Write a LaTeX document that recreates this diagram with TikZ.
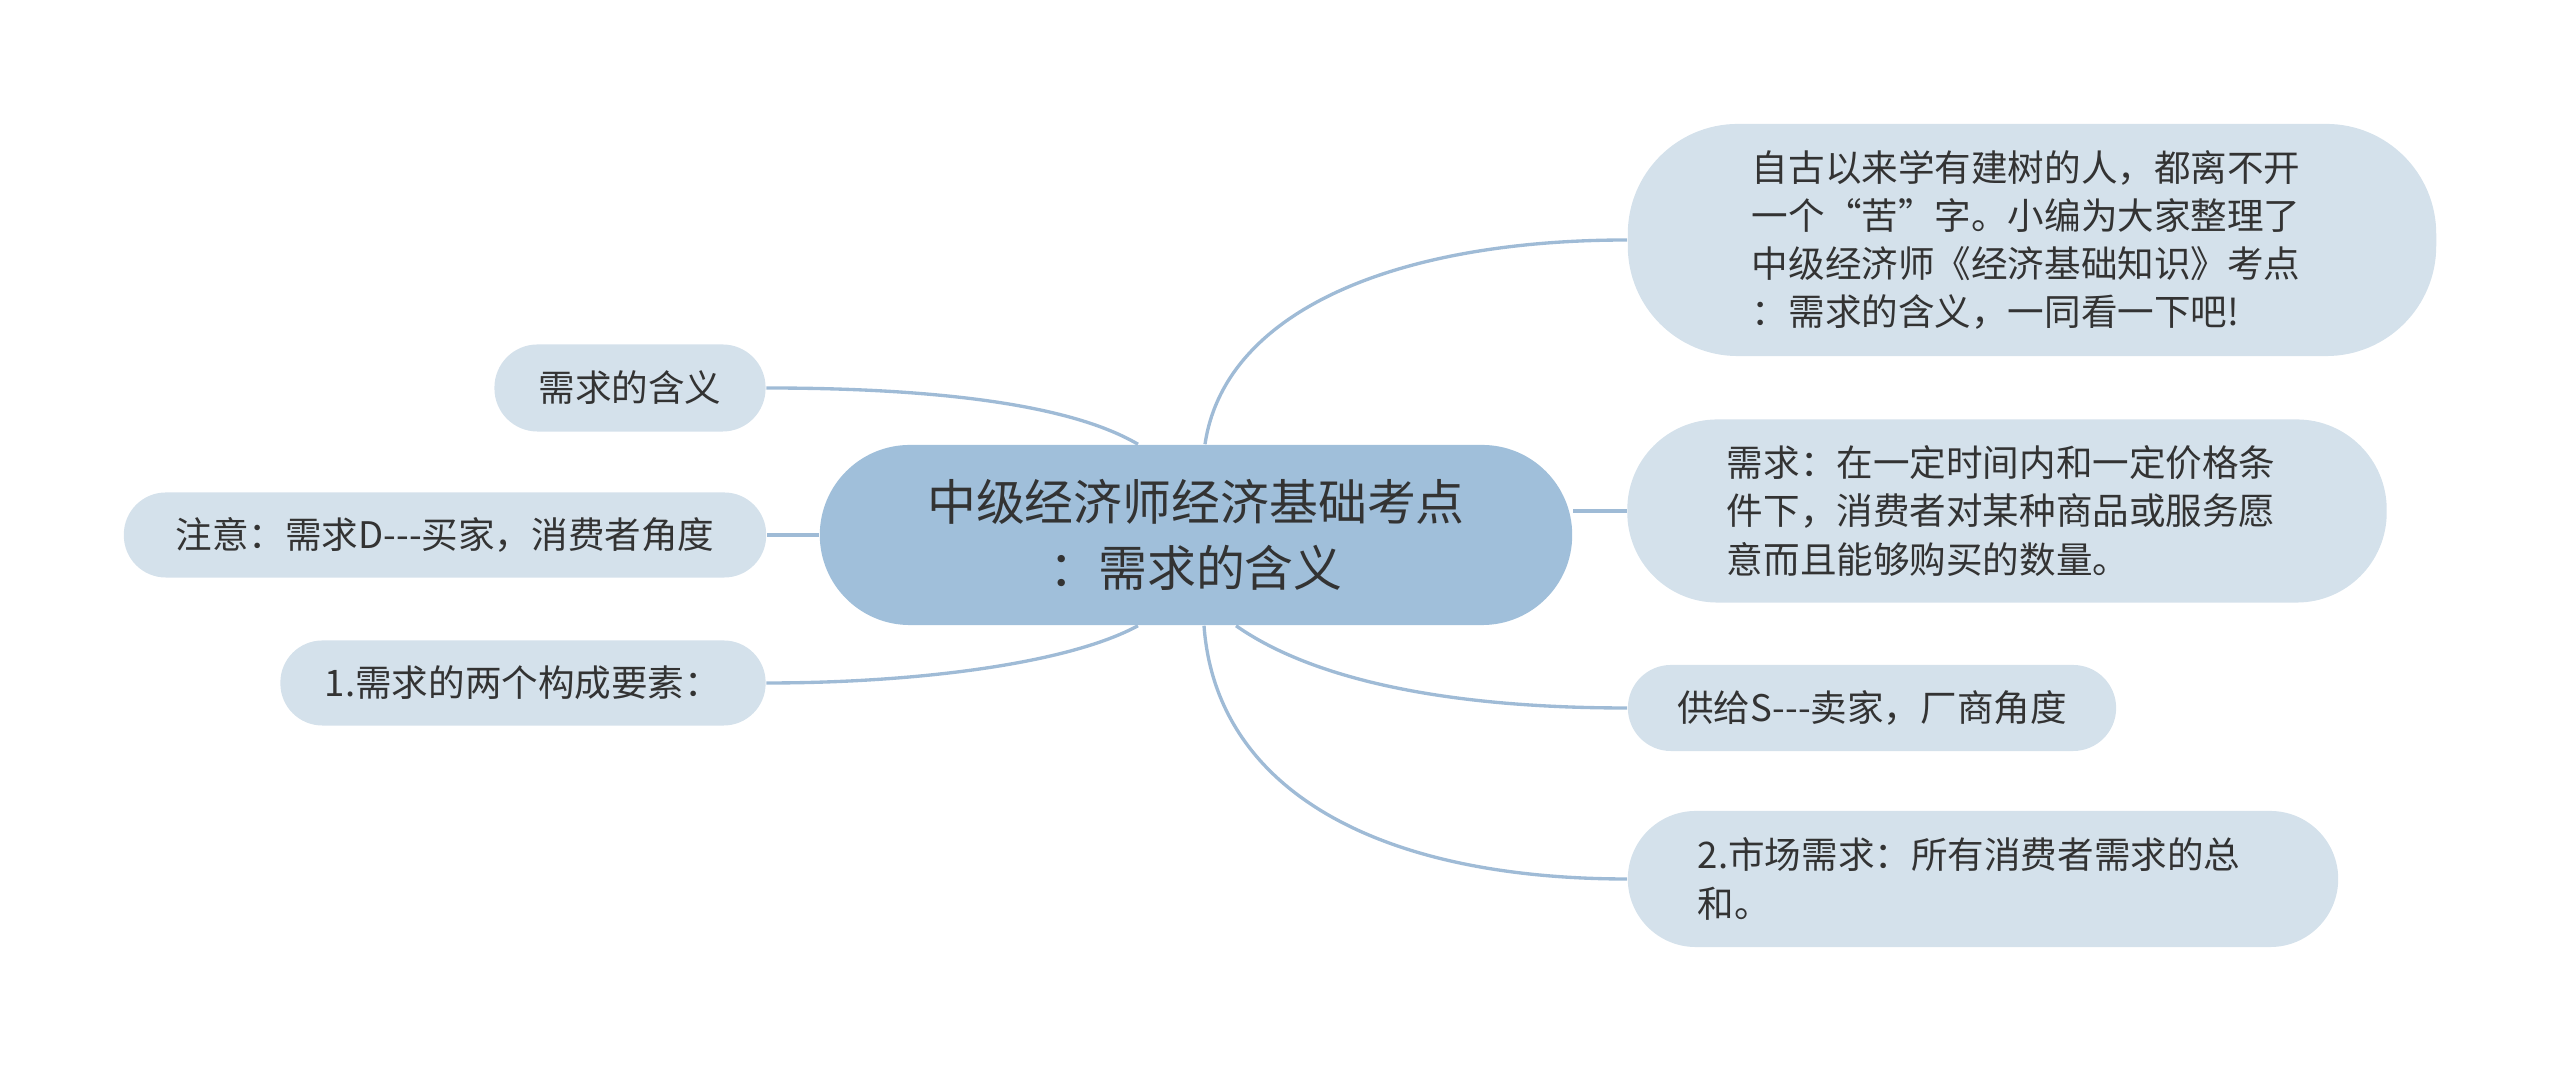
\documentclass[tikz,border=0pt]{standalone}
\usepackage{fontspec}
\setmainfont[Ligatures=NoCommon]{Noto Sans CJK SC}
\definecolor{lineC}{HTML}{9FBBD6}
\definecolor{rootC}{HTML}{A0BFDA}
\definecolor{leafC}{HTML}{D4E1EB}
\definecolor{txtC}{HTML}{333333}
\begin{document}
\begin{tikzpicture}[x=0.01cm,y=-0.01cm,
  rootnode/.style={fill=rootC, text=txtC, inner sep=0pt, align=center,
    font=\fontsize{13.9pt}{19pt}\selectfont},
  leafnode/.style={fill=leafC, text=txtC, inner sep=0pt,
    font=\fontsize{10.4pt}{13.7pt}\selectfont},
  conn/.style={draw=lineC, line width=0.95pt}]
\useasboundingbox (0,0) rectangle (2560,1071);

\node[rootnode, minimum width=7.52cm, minimum height=1.80cm, rounded corners=0.9cm] (root) at (1196,535)
  {中级经济师经济基础考点\\：需求的含义};

\node[leafnode, minimum width=8.08cm, minimum height=2.32cm, rounded corners=1.1cm, text width=5.6cm, align=left] (r1) at (2032,240)
  {自古以来学有建树的人，都离不开\\一个“苦”字。小编为大家整理了\\中级经济师《经济基础知识》考点\\：需求的含义，一同看一下吧!};
\node[leafnode, minimum width=7.59cm, minimum height=1.83cm, rounded corners=0.9cm, text width=5.6cm, align=left] (r2) at (2007,511)
  {需求：在一定时间内和一定价格条\\件下，消费者对某种商品或服务愿\\意而且能够购买的数量。};
\node[leafnode, minimum width=4.88cm, minimum height=0.86cm, rounded corners=0.43cm] (r3) at (1872,708)
  {供给S-{}-{}-卖家，厂商角度};
\node[leafnode, minimum width=7.10cm, minimum height=1.36cm, rounded corners=0.68cm, text width=5.7cm, align=left] (r4) at (1983,879)
  {2.市场需求：所有消费者需求的总\\和。};

\node[leafnode, minimum width=2.71cm, minimum height=0.87cm, rounded corners=0.43cm] (l1) at (630,388)
  {需求的含义};
\node[leafnode, minimum width=6.42cm, minimum height=0.85cm, rounded corners=0.42cm] (l2) at (445,535)
  {注意：需求D-{}-{}-买家，消费者角度};
\node[leafnode, minimum width=4.85cm, minimum height=0.85cm, rounded corners=0.42cm] (l3) at (523,683)
  {1.需求的两个构成要素：};

\draw[conn] ([xshift=0.09cm]root.north) .. controls +(20,-135) and +(-228,0) .. (r1.west);
\draw[conn] (r2.west) -- (r2.west -| root.east);
\draw[conn] ([xshift=0.40cm]root.south) .. controls +(64,45) and +(-208,0) .. (r3.west);
\draw[conn] ([xshift=0.08cm]root.south) .. controls +(12,165) and +(-248,0) .. (r4.west);
\draw[conn] ([xshift=-0.58cm]root.north) .. controls +(-78,-46) and +(134,0) .. (l1.east);
\draw[conn] (root.west) -- (l2.east);
\draw[conn] ([xshift=-0.58cm]root.south) .. controls +(-70,38) and +(150,0) .. (l3.east);
\end{tikzpicture}
\end{document}
